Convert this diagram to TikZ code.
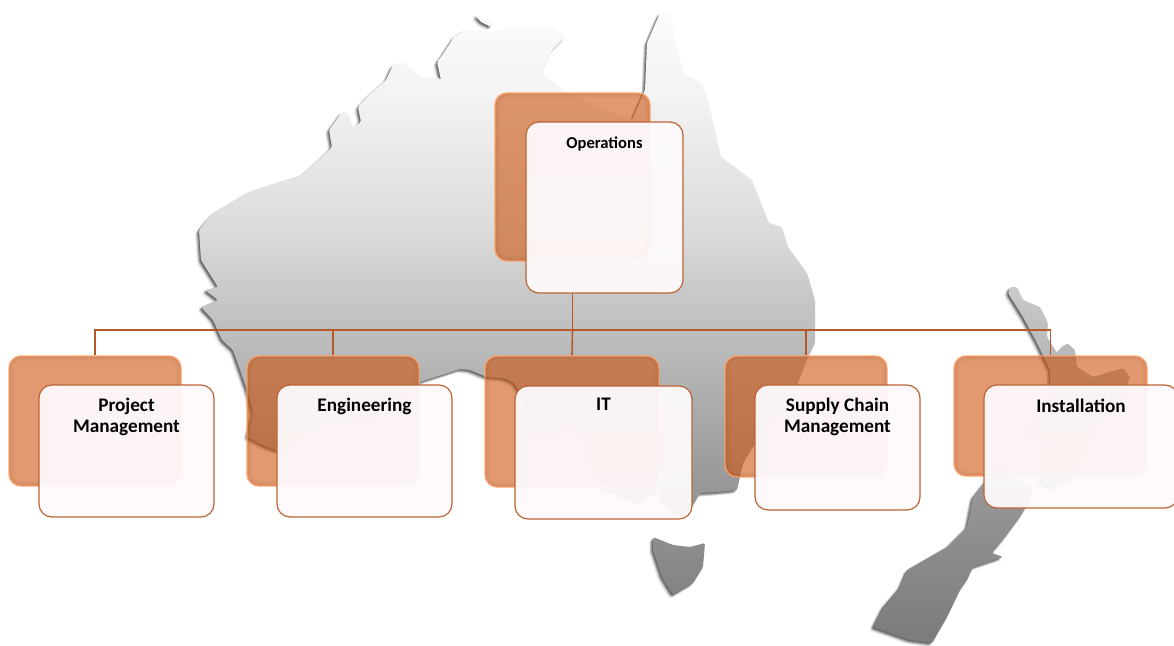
\documentclass[tikz,border=0pt]{standalone}
\usepackage{fontspec}
\setmainfont{Carlito}
\pgfdeclarelayer{maplayer}
\pgfdeclarelayer{linelayer}
\pgfsetlayers{maplayer,linelayer,main}
\definecolor{gB}{gray}{0.48}
\definecolor{gC}{gray}{0.60}
\definecolor{gD}{gray}{0.745}
\definecolor{gM}{gray}{0.86}
\definecolor{gE}{gray}{0.95}
\definecolor{gF}{gray}{0.99}
\pgfdeclareverticalshading{mapgrad}{100bp}{
  color(0bp)=(gB);color(25bp)=(gB);color(37.8bp)=(gC);color(49.4bp)=(gD);color(57.2bp)=(gM);
  color(67.2bp)=(gE);color(75bp)=(gF);color(100bp)=(gF)}
\definecolor{linecol}{HTML}{B5592B}
\definecolor{frontline}{HTML}{BC6435}
\definecolor{backfill}{HTML}{CE5510}
\definecolor{backrim}{HTML}{FBA26B}
\definecolor{bevel}{HTML}{8A3A10}
\definecolor{frontfill}{HTML}{FEFAFC}
\newcommand{\auspath}{
 (199,230) -- (207,220) -- (214,213) -- (249,192) -- (279,182) -- (302,175) -- (319,160) -- (332,147)
 -- (329,130) -- (342,112) -- (348,113) -- (353,128) -- (361,122) -- (358,107) -- (367,97) -- (386,80) -- (393,65) -- (403,62) -- (422,78)
 -- (437,77) -- (441,80) -- (437,62) -- (441,57) -- (454,37) -- (465,30) -- (490,32) -- (515,27) -- (530,26) -- (555,28) -- (565,37)
 -- (552,50) -- (542,72) -- (546,77) -- (565,92) -- (605,110) -- (632,120) -- (645,90)
 -- (647,43) -- (660,13) -- (670,13) -- (680,60) -- (685,75) -- (702,83) -- (708,100)
 -- (721,157) -- (752,180) -- (769,223) -- (782,227) -- (788,247) -- (807,273) -- (815,300) -- (815,320)
 -- (815,343) -- (808,357) -- (790,403) -- (763,430) -- (743,463) -- (737,490) -- (717,492) -- (700,493)
 -- (692,507) -- (680,512) -- (663,502) -- (662,487) -- (643,502) -- (603,487) -- (587,440) -- (573,420)
 -- (557,433) -- (533,432) -- (533,410) -- (528,403) -- (513,382) -- (503,378) -- (487,377) -- (470,370)
 -- (460,369) -- (420,382) -- (377,418) -- (320,423) -- (283,452) -- (267,447) -- (247,437) -- (253,413)
 -- (247,390) -- (233,350) -- (222,340) -- (213,320) -- (201,307) -- (218,300) -- (205,290) -- (218,287)
 -- (201,260) -- cycle
 (475,15) -- (493,20) -- (491,27) -- (481,22) -- cycle
 (653,537) -- (673,545) -- (690,547) -- (705,543) -- (703,567) -- (693,583) -- (673,595) -- (662,577) -- (653,550) -- cycle
 (1010,287) -- (1017,287) -- (1023,300) -- (1040,307) -- (1048,323) -- (1047,337) -- (1057,353) -- (1067,343)
 -- (1075,350) -- (1077,367) -- (1093,377) -- (1123,368) -- (1130,377) -- (1120,403) -- (1093,430) -- (1073,477)
 -- (1053,488) -- (1040,480) -- (1050,443) -- (1027,430) -- (1050,403) -- (1050,370) -- (1037,343) -- (1023,317)
 -- (1008,293) -- cycle
 (1033,487) -- (1030,500) -- (1020,517) -- (1003,540) -- (992,553) -- (1003,557) -- (973,567) -- (967,580)
 -- (960,590) -- (947,617) -- (932,643) -- (910,640) -- (873,627) -- (883,607) -- (900,587) -- (907,570) -- (947,547) -- (967,527)
 -- (973,497) -- (1000,463) -- (1013,477) -- cycle}
\newcommand{\boxtext}[4]{\parbox[c][#2pt][t]{#1pt}{\centering\vspace*{#4pt}\fontsize{19.2}{21}\selectfont\bfseries #3\par}}
\tikzset{
  backbox/.style={rectangle,rounded corners=12pt,inner sep=0pt,fill=backfill,draw=backrim,
    line width=1.4pt,fill opacity=.6,draw opacity=.9,
    path picture={
      \draw[bevel,line width=9pt,opacity=.06] (path picture bounding box.north west) rectangle (path picture bounding box.south east);
      \draw[bevel,line width=4pt,opacity=.09] (path picture bounding box.north west) rectangle (path picture bounding box.south east);
    }},
  frontbox/.style={rectangle,rounded corners=13pt,inner sep=0pt,fill=frontfill,draw=frontline,
    line width=1.2pt,fill opacity=.95,draw opacity=1,text opacity=1,text=black},
  treeline/.style={draw=linecol,line width=1.6pt}
}
\begin{document}
\begin{tikzpicture}[x=1pt,y=-1pt]
\useasboundingbox (0,0) rectangle (1174,645);
% back boxes
\node[backbox,minimum width=155pt,minimum height=168pt] (opsB) at (572.5,177) {};
\node[backbox,minimum width=172pt,minimum height=130pt] (pmB) at (95,421) {};
\node[backbox,minimum width=172pt,minimum height=130pt] (engB) at (333,421) {};
\node[backbox,minimum width=174pt,minimum height=131pt] (itB) at (572,421.5) {};
\node[backbox,minimum width=162pt,minimum height=121pt] (scmB) at (806,416.5) {};
\node[backbox,minimum width=193pt,minimum height=120pt] (instB) at (1050.5,416) {};
% front boxes
\node[frontbox] (opsF) at (604.5,207.5) {\boxtext{157}{171}{\fontsize{16.6}{19}\selectfont Operations}{15}};
\node[frontbox] (pmF) at (126.5,451) {\boxtext{175}{132}{Project\\Management}{13.5}};
\node[frontbox] (engF) at (364.5,451) {\boxtext{175}{132}{Engineering}{13.5}};
\node[frontbox] (itF) at (603.5,452.5) {\boxtext{177}{133}{IT}{12.5}};
\node[frontbox] (scmF) at (837.5,447.5) {\boxtext{165}{125}{Supply Chain\\Management}{13.5}};
\node[frontbox] (instF) at (1081,446.5) {\boxtext{194}{123}{Installation}{13.5}};
\begin{pgfonlayer}{maplayer}
  \foreach \dx/\dy/\op in {-1/1/.22,-2/2/.18,-3/3/.12,-1/3/.12,-3/1/.10,-4/4/.06}{
    \fill[black,opacity=\op,rounded corners=1.5pt,shift={(\dx,\dy)}] \auspath;
  }
  \begin{scope}[rounded corners=1.5pt]
    \clip \auspath;
    \shade[shading=mapgrad] (0,0) rectangle (1174,645);
  \end{scope}
\end{pgfonlayer}
\begin{pgfonlayer}{linelayer}
  \coordinate (bus) at (573,330);
  \draw[treeline] (opsB.south) -- (opsB.south |- bus);
  \draw[treeline] (opsB.south |- bus) -| (pmB.north);
  \draw[treeline] (opsB.south |- bus) -| (engB.north);
  \draw[treeline] (opsB.south |- bus) -- (itB.north);
  \draw[treeline] (opsB.south |- bus) -| (scmB.north);
  \draw[treeline] (opsB.south |- bus) -| (instB.north);
\end{pgfonlayer}
\end{tikzpicture}
\end{document}
